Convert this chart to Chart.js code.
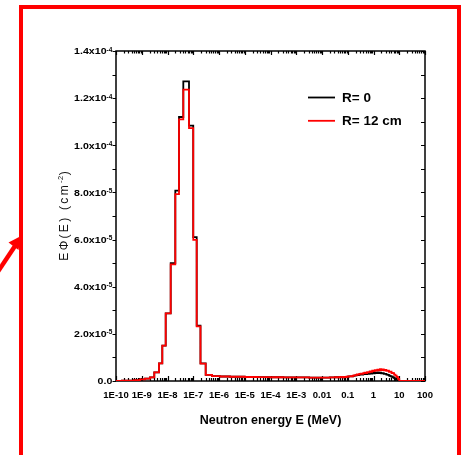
<!DOCTYPE html>
<html>
<head>
<meta charset="utf-8">
<script src="https://cdn.jsdelivr.net/npm/chart.js@4.4.1/dist/chart.umd.min.js"></script>
<style>
  html, body { margin: 0; padding: 0; background: #fff; }
  #wrap { position: relative; width: 462px; height: 455px; overflow: hidden; }
  #frame { position: absolute; left: 19px; top: 5px; width: 434px; height: 470px; border: 4px solid #ff0000; }
  #arrow { position: absolute; left: 0; top: 0; }
  canvas { position: absolute; left: 0; top: 0; }
</style>
</head>
<body>
<div id="wrap">
  <div id="frame"></div>
  <svg id="arrow" width="462" height="455">
    <line x1="-3" y1="273" x2="15" y2="246" stroke="#ff0000" stroke-width="4.5"/>
    <polygon points="21,236 8.5,242.5 18.5,250" fill="#ff0000"/>
  </svg>
  <canvas id="chart" width="462" height="455"></canvas>
</div>
<script>
// bin lower edges (MeV); the last bin closes at E_MAX
const energy = [
  1e-10, 1.7e-10, 2.9e-10, 5.0e-10, 8.5e-10, 1.34e-9, 2.09e-9, 3.07e-9, 4.68e-9, 6.28e-9,
  8.51e-9, 1.33e-8, 2.01e-8, 2.80e-8, 4.11e-8, 6.84e-8, 1.00e-7, 1.36e-7, 1.91e-7, 3.04e-7,
  5.35e-7, 1.09e-6, 2.67e-6, 1e-5, 3.16e-5, 1e-4, 3.16e-4, 1e-3, 3.16e-3, 1e-2,
  2e-2, 3.16e-2, 5e-2,
  0.0631, 0.0708, 0.0794, 0.0891, 0.1, 0.112, 0.126, 0.141, 0.158, 0.178,
  0.2, 0.224, 0.251, 0.282, 0.316, 0.355, 0.398, 0.447, 0.501, 0.562,
  0.631, 0.708, 0.794, 0.891, 1.0, 1.12, 1.26, 1.41, 1.58, 1.78,
  2.0, 2.24, 2.51, 2.82, 3.16, 3.55, 3.98, 4.47, 5.01, 5.62,
  6.31, 7.08, 7.94, 8.91, 10
];
const E_MAX = 100;

// E*phi(E) in units of 1e-6 cm^-2
const fluxR0 = [
  0.05, 0.1, 0.2, 0.35, 0.7, 1.0, 1.5, 3.7, 7.5, 15.0,
  28.7, 50.0, 80.8, 112.0, 127.1, 108.3, 61.0, 23.5, 7.5, 2.6,
  2.1, 1.9, 1.8, 1.7, 1.65, 1.6, 1.55, 1.5, 1.45, 1.4,
  1.5, 1.6, 1.75,
  1.6, 1.65, 1.7, 1.75, 1.85, 1.95, 2.0, 1.95, 2.2, 2.3,
  2.35, 2.6, 2.5, 2.7, 2.8, 2.7, 2.9, 3.0, 2.9, 3.2,
  3.0, 3.3, 3.1, 3.4, 3.2, 3.5, 3.3, 3.6, 3.3, 3.5,
  3.2, 3.3, 3.0, 3.0, 2.7, 2.6, 2.3, 2.1, 1.8, 1.5,
  1.2, 0.9, 0.5, 0.2, 0
];
const fluxR12 = [
  0.05, 0.1, 0.2, 0.35, 0.7, 1.0, 1.5, 3.7, 7.5, 15.0,
  28.7, 49.5, 79.3, 111.0, 123.6, 107.3, 59.9, 23.2, 7.4, 2.6,
  2.1, 1.9, 1.8, 1.7, 1.65, 1.6, 1.55, 1.5, 1.45, 1.4,
  1.5, 1.6, 1.75,
  1.6, 1.7, 1.7, 1.8, 1.9, 2.0, 2.1, 2.0, 2.3, 2.4,
  2.5, 2.8, 2.7, 3.0, 3.1, 3.0, 3.3, 3.5, 3.4, 3.8,
  3.7, 4.1, 3.9, 4.4, 4.2, 4.6, 4.4, 4.8, 4.5, 5.0,
  4.6, 4.9, 4.5, 4.7, 4.3, 4.4, 3.9, 4.0, 3.4, 3.3,
  2.7, 2.3, 1.7, 0.9, 0
];

const seriesLabels = ['R= 0', 'R= 12 cm'];
const seriesColors = ['#000000', '#ff0000'];

const xTickValues = [1e-10, 1e-9, 1e-8, 1e-7, 1e-6, 1e-5, 1e-4, 1e-3, 1e-2, 1e-1, 1, 10, 100];
const xTickLabels = ['1E-10', '1E-9', '1E-8', '1E-7', '1E-6', '1E-5', '1E-4', '1E-3', '0.01', '0.1', '1', '10', '100'];
const yTickValues = [0, 20, 40, 60, 80, 100, 120, 140];
const yTickLabels = ['0.0', '2.0x10^-5', '4.0x10^-5', '6.0x10^-5', '8.0x10^-5', '1.0x10^-4', '1.2x10^-4', '1.4x10^-4'];

const FONT = '"Liberation Sans", Arial, sans-serif';

function toSteps(values) {
  const pts = energy.map((e, i) => ({ x: e, y: values[i] }));
  pts.push({ x: E_MAX, y: values[values.length - 1] });
  return pts;
}

// box + tick marks on all four sides
const frameTicks = {
  id: 'frameTicks',
  beforeDatasetsDraw(chart) {
    const { ctx, chartArea: a, scales: { x, y } } = chart;
    ctx.save();
    ctx.strokeStyle = '#000';
    ctx.lineWidth = 1.2;
    ctx.beginPath();
    // x ticks, majors at decades, minors 2..9
    for (let n = -10; n <= 2; n++) {
      for (let k = 1; k <= 9; k++) {
        const v = k * Math.pow(10, n);
        if (v > 100 * 1.0001) break;
        const px = Math.round(x.getPixelForValue(v)) + 0.5;
        const lb = k === 1 ? 5 : 3;
        const lt = k === 1 ? 4 : 2.5;
        ctx.moveTo(px, a.bottom); ctx.lineTo(px, a.bottom - lb);
        ctx.moveTo(px, a.top); ctx.lineTo(px, a.top + lt);
      }
    }
    // y ticks every 10 (1e-5)
    for (let v = 0; v <= 140; v += 10) {
      const py = Math.round(y.getPixelForValue(v)) + 0.5;
      ctx.moveTo(a.left, py); ctx.lineTo(a.left - 3.5, py);
      ctx.moveTo(a.right, py); ctx.lineTo(a.right - 4, py);
    }
    ctx.stroke();
    ctx.lineWidth = 1.5;
    ctx.strokeRect(a.left, a.top, a.right - a.left, a.bottom - a.top);
    ctx.restore();
  }
};

// y tick labels with superscript exponents
const yLabels = {
  id: 'yLabels',
  afterDraw(chart) {
    const { ctx, scales: { y } } = chart;
    const right = 112.3;
    ctx.save();
    ctx.fillStyle = '#000';
    yTickValues.forEach((v, i) => {
      const [main, sup] = yTickLabels[i].split('^');
      const py = y.getPixelForValue(v);
      ctx.font = 'bold 6.5px ' + FONT;
      const sw = sup ? ctx.measureText(sup).width : 0;
      if (sup) {
        ctx.textAlign = 'right';
        ctx.fillText(sup, right, py + 0.6);
      }
      ctx.font = 'bold 10.6px ' + FONT;
      ctx.textAlign = 'right';
      ctx.save();
      ctx.translate(right - sw, py + 3.3);
      ctx.scale(1, 0.86);
      ctx.fillText(main, 0, 0);
      ctx.restore();
    });
    ctx.restore();
  }
};

// rotated y title, spaced letters
const yTitle = {
  id: 'yTitle',
  afterDraw(chart) {
    const { ctx, chartArea: a } = chart;
    const parts = [
      { t: 'E\u03A6(E) (cm', size: 12, dy: 0, sp: '2.3px' },
      { t: '-2', size: 7.5, dy: -5, sp: '0.5px' },
      { t: ')', size: 12, dy: 0, sp: '0px' }
    ];
    ctx.save();
    ctx.translate(67.5, (a.top + a.bottom) / 2);
    ctx.rotate(-Math.PI / 2);
    ctx.fillStyle = '#111';
    ctx.textAlign = 'left';
    ctx.textBaseline = 'alphabetic';
    let total = 0;
    parts.forEach(p => {
      ctx.font = p.size + 'px ' + FONT;
      ctx.letterSpacing = p.sp;
      p.w = ctx.measureText(p.t).width;
      total += p.w;
    });
    let cx = -total / 2;
    parts.forEach(p => {
      ctx.font = p.size + 'px ' + FONT;
      ctx.letterSpacing = p.sp;
      ctx.fillText(p.t, cx, p.dy);
      cx += p.w;
    });
    ctx.restore();
  }
};

// legend inside the plot area
const insideLegend = {
  id: 'insideLegend',
  afterDatasetsDraw(chart) {
    const ctx = chart.ctx;
    ctx.save();
    chart.data.datasets.forEach((ds, i) => {
      const ly = 97.5 + i * 23.3;
      ctx.strokeStyle = ds.borderColor;
      ctx.lineWidth = 1.8;
      ctx.beginPath();
      ctx.moveTo(308, ly);
      ctx.lineTo(335, ly);
      ctx.stroke();
      ctx.fillStyle = '#000';
      ctx.font = 'bold 13.5px ' + FONT;
      ctx.textAlign = 'left';
      ctx.textBaseline = 'middle';
      ctx.fillText(ds.label, 342, ly + 0.8);
    });
    ctx.restore();
  }
};

new Chart(document.getElementById('chart'), {
  type: 'line',
  data: {
    datasets: [
      {
        label: seriesLabels[0],
        data: toSteps(fluxR0),
        borderColor: seriesColors[0],
        borderWidth: 1.8,
        stepped: 'before',
        pointRadius: 0,
        fill: false,
        order: 2
      },
      {
        label: seriesLabels[1],
        data: toSteps(fluxR12),
        borderColor: seriesColors[1],
        borderWidth: 1.8,
        stepped: 'before',
        pointRadius: 0,
        fill: false,
        order: 1
      }
    ]
  },
  options: {
    responsive: false,
    animation: false,
    layout: { padding: { top: 51, right: 37, left: 0, bottom: 0 } },
    scales: {
      x: {
        type: 'logarithmic',
        min: 1e-10,
        max: 100,
        afterBuildTicks(s) { s.ticks = xTickValues.map(v => ({ value: v })); },
        afterFit(s) { s.height = 74; },
        grid: { display: false, drawTicks: false },
        border: { display: false },
        ticks: {
          autoSkip: false,
          maxRotation: 0,
          padding: 8.5,
          color: '#000',
          font: { family: FONT, size: 9.5, weight: 'bold' },
          callback: (v, i) => xTickLabels[i]
        },
        title: {
          display: true,
          text: 'Neutron energy E (MeV)',
          color: '#000',
          font: { family: FONT, size: 12.5, weight: 'bold' },
          padding: { top: 0, bottom: 27 }
        }
      },
      y: {
        min: 0,
        max: 140,
        afterFit(s) { s.width = 116; },
        grid: { display: false, drawTicks: false },
        border: { display: false },
        ticks: { stepSize: 20, display: false }
      }
    },
    plugins: {
      legend: { display: false },
      tooltip: { enabled: false }
    }
  },
  plugins: [frameTicks, yLabels, yTitle, insideLegend]
});
</script>
</body>
</html>
